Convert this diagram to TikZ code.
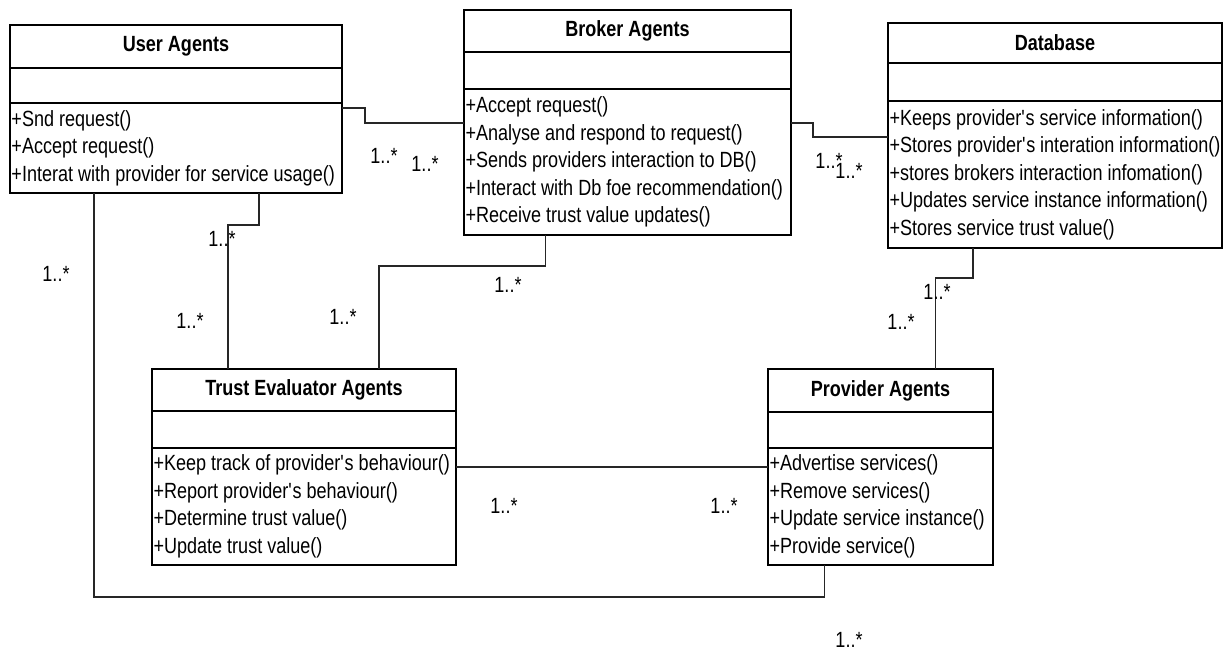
\documentclass[tikz,border=0pt]{standalone}
\usepackage{fontspec}
\setmainfont{Liberation Sans}[FakeStretch=0.82]
\usepackage{tikz}
\usetikzlibrary{positioning}
\usetikzlibrary{calc}
\newcommand{\umlfont}{\fontsize{22pt}{27.5pt}\selectfont}
\tikzstyle{assoc} = [draw, line width=1.3pt, color=black!85]

\begin{document}
\begin{tikzpicture}[x=1pt, y=-1pt,
			classname/.style={draw, rectangle, line width=1.6pt, outer sep=0pt, inner sep=0pt, anchor=north west, font=\umlfont\bfseries},
			attrbox/.style={draw, rectangle, line width=1.6pt, outer sep=0pt, inner sep=0pt},
			opsbox/.style={draw, rectangle, line width=1.6pt, outer sep=0pt, inner xsep=1.5pt, inner ysep=0pt, align=flush left, font=\umlfont},
			mult/.style={font=\umlfont, inner sep=0pt}]
			\useasboundingbox (0,0) rectangle (1225,651);
			
			% User Agents
			\node[classname, minimum width=332pt, minimum height=43pt](user) at (10, 25) {User Agents};
			\node[attrbox, minimum width=332pt, minimum height=35pt, below=0pt of user](userattr) {};
			\node[opsbox, text width=329pt, minimum height=90pt, below=0pt of userattr](userops) {+Snd request()\\+Accept request()\\+Interat with provider for service usage()};
			
			% Broker Agents
			\node[classname, minimum width=327pt, minimum height=42pt](broker) at (464, 10) {Broker Agents};
			\node[attrbox, minimum width=327pt, minimum height=37pt, below=0pt of broker](brokerattr) {};
			\node[opsbox, text width=324pt, minimum height=146pt, below=0pt of brokerattr](brokerops) {+Accept request()\\+Analyse and respond to request()\\+Sends providers interaction to DB()\\+Interact with Db foe recommendation()\\+Receive trust value updates()};
			
			% Database
			\node[classname, minimum width=334pt, minimum height=40pt](db) at (888, 23) {Database};
			\node[attrbox, minimum width=334pt, minimum height=38pt, below=0pt of db](dbattr) {};
			\node[opsbox, text width=331pt, minimum height=147pt, below=0pt of dbattr](dbops) {+Keeps provider\textquotesingle s service information()\\+Stores provider\textquotesingle s interation information()\\+stores brokers interaction infomation()\\+Updates service instance information()\\+Stores service trust value()};
			
			% Trust Evaluator Agents
			\node[classname, minimum width=304pt, minimum height=42pt](trust) at (152, 369) {Trust Evaluator Agents};
			\node[attrbox, minimum width=304pt, minimum height=37pt, below=0pt of trust](trustattr) {};
			\node[opsbox, text width=301pt, minimum height=117pt, below=0pt of trustattr](trustops) {+Keep track of provider\textquotesingle s behaviour()\\+Report provider\textquotesingle s behaviour()\\+Determine trust value()\\+Update trust value()};
			
			% Provider Agents
			\node[classname, minimum width=225pt, minimum height=43pt](prov) at (768, 369) {Provider Agents};
			\node[attrbox, minimum width=225pt, minimum height=36pt, below=0pt of prov](provattr) {};
			\node[opsbox, text width=222pt, minimum height=117pt, below=0pt of provattr](provops) {+Advertise services()\\+Remove services()\\+Update service instance()\\+Provide service()};
			
			% associations
			\draw[assoc] ([yshift=-5pt]userops.north east) -- ++(23,0) |- ([yshift=-34pt]brokerops.north west);
			\draw[assoc] ([yshift=-34pt]brokerops.north east) -- ++(22,0) |- ([yshift=-36pt]dbops.north west);
			\draw[assoc] ([xshift=83pt]userops.south) -- ++(0,32) -| ([xshift=-76pt]trust.north);
			\draw[assoc] ([xshift=-82pt]brokerops.south) -- ++(0,31) -| ([xshift=75pt]trust.north);
			\draw[assoc] ([xshift=-82pt]dbops.south) -- ++(0,30) -| ([xshift=55pt]prov.north);
			\draw[assoc] ([yshift=-19pt]trustops.north east) -- ([yshift=-19pt]provops.north west);
			\draw[assoc] ([xshift=-82pt]userops.south) -- ++(0,404) -| ([xshift=-56pt]provops.south);
			
			% multiplicities
			\node[mult](m1) at (384, 156) {1..*};
			\node[mult](m2) at (425, 164) {1..*};
			\node[mult](m3) at (829, 161) {1..*};
			\node[mult](m4) at (849, 171) {1..*};
			\node[mult](m5) at (222, 239) {1..*};
			\node[mult](m6) at (190, 321) {1..*};
			\node[mult](m7) at (508, 285) {1..*};
			\node[mult](m8) at (343, 317) {1..*};
			\node[mult](m9) at (937, 292) {1..*};
			\node[mult](m10) at (901, 322) {1..*};
			\node[mult](m11) at (504, 506) {1..*};
			\node[mult](m12) at (724, 506) {1..*};
			\node[mult](m13) at (56, 274) {1..*};
			\node[mult](m14) at (849, 640) {1..*};
			
		\end{tikzpicture}
\end{document}
